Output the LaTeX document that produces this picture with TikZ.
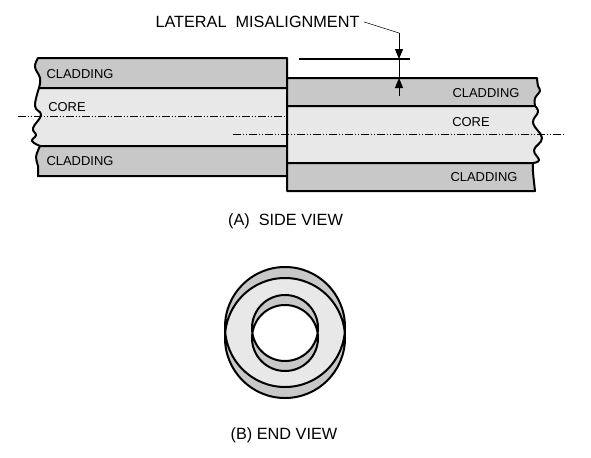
\documentclass[tikz,border=0pt]{standalone}
\usepackage{fontspec}
\setmainfont{Liberation Sans}
\usetikzlibrary{arrows.meta}
\definecolor{claddinggray}{HTML}{C8C8C8}
\definecolor{coregray}{HTML}{E8E8E8}
\tikzset{
  outline/.style={draw=black,line width=1.5pt,line join=round},
  centerline/.style={black,line width=0.6pt,dash pattern=on 6pt off 1.2pt on 1.2pt off 1.2pt on 1.2pt off 1.2pt},
  thinline/.style={black,line width=0.75pt},
  smalllabel/.style={font=\fontsize{9.7}{11}\selectfont},
  biglabel/.style={font=\fontsize{12.2}{14}\selectfont},
  tip/.style={-{Triangle[length=7.5pt,width=6pt]}}
}
\begin{document}
\begin{tikzpicture}[x=0.75pt,y=-0.75pt]
\useasboundingbox (0,0) rectangle (591,457);
% Left fiber
\filldraw[outline,fill=claddinggray] (287,88) -- (287,58) -- (38,58) -- plot[smooth,tension=0.7] coordinates {(38,58) (35,67) (40,78) (39,88)} -- cycle;
\filldraw[outline,fill=coregray] (287,146) -- (287,88) -- (39,88) -- plot[smooth,tension=0.7] coordinates {(39,88) (35,106) (41,115) (33,128) (36,135) (32,141) (40,146)} -- cycle;
\filldraw[outline,fill=claddinggray] (287,176) -- (287,146) -- (40,146) -- plot[smooth,tension=0.7] coordinates {(40,146) (36,157) (38,166) (38,176)} -- cycle;
% Right fiber
\filldraw[outline,fill=claddinggray] (287,106) -- (287,78) -- (537,78) -- plot[smooth,tension=0.7] coordinates {(537,78) (538,86) (540,91) (535,98) (535,106)} -- cycle;
\filldraw[outline,fill=coregray] (287,163) -- (287,106) -- (535,106) -- plot[smooth,tension=0.7] coordinates {(535,106) (538,112) (533,123) (542,138) (534,150) (539,160) (533,163)} -- cycle;
\filldraw[outline,fill=claddinggray] (287,191) -- (287,163) -- (533,163) -- plot[smooth,tension=0.7] coordinates {(533,163) (533,172) (535,191)} -- cycle;
% Center lines
\draw[centerline] (18,116) -- (287,116);
\draw[centerline] (233,134) -- (565,134);
% Misalignment mark
\node[biglabel] (misalign) at (257.5,22) {LATERAL\ \ MISALIGNMENT};
\coordinate (bend) at (399,33);
\coordinate (upper) at (399,59);
\coordinate (lower) at (399,78);
\coordinate (tail) at (399,96);
\draw[thin] (misalign.east) -- (bend);
\draw[thinline] (upper) -- (lower);
\draw[thinline,tip] (bend) -- (upper);
\draw[thinline,tip] (tail) -- (lower);
\draw[line width=1.5pt] (299,59) -- (410,59);
% Labels
\node[smalllabel] (cladA) at (80,74) {CLADDING};
\node[smalllabel] (coreA) at (67,107) {CORE};
\node[smalllabel] (cladB) at (80,161) {CLADDING};
\node[smalllabel] (cladC) at (486,93) {CLADDING};
\node[smalllabel] (coreB) at (471,122) {CORE};
\node[smalllabel] (cladD) at (484,177) {CLADDING};
\node[biglabel] (sideview) at (285.5,221) {(A)\ \ SIDE VIEW};
% End view
\fill[claddinggray] (285,327) circle (60) (285,338) circle (60);
\begin{scope}
\clip (285,327) circle (60);
\fill[coregray] (285,338) circle (60);
\end{scope}
\fill[claddinggray] (285,328) circle (33) (285,338) circle (33);
\begin{scope}
\clip (285,328) circle (33);
\fill[white] (285,338) circle (33);
\end{scope}
\draw[outline] (285,327) circle (60) (285,338) circle (60);
\draw[outline] (285,328) circle (33) (285,338) circle (33);
\node[biglabel] (endview) at (284,435) {(B) END VIEW};
\end{tikzpicture}
\end{document}
